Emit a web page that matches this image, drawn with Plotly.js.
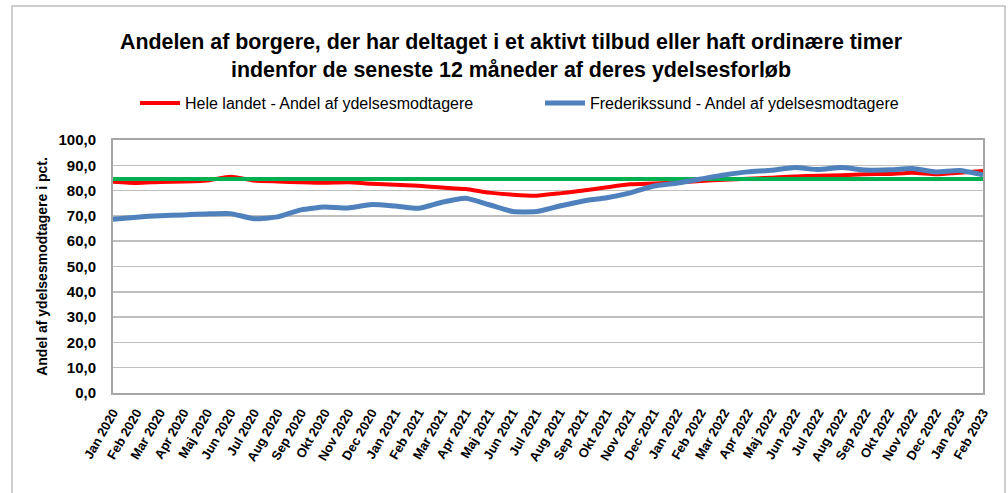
<!DOCTYPE html>
<html>
<head>
<meta charset="utf-8">
<script src="https://cdn.plot.ly/plotly-3.0.1.min.js"></script>
<style>
  html, body { margin: 0; padding: 0; background: #ffffff; }
  #chart { width: 1008px; height: 493px; }
</style>
</head>
<body>
<div id="chart"></div>
<script>
const months = ["Jan 2020","Feb 2020","Mar 2020","Apr 2020","Maj 2020","Jun 2020","Jul 2020","Aug 2020","Sep 2020","Okt 2020","Nov 2020","Dec 2020",
  "Jan 2021","Feb 2021","Mar 2021","Apr 2021","Maj 2021","Jun 2021","Jul 2021","Aug 2021","Sep 2021","Okt 2021","Nov 2021","Dec 2021",
  "Jan 2022","Feb 2022","Mar 2022","Apr 2022","Maj 2022","Jun 2022","Jul 2022","Aug 2022","Sep 2022","Okt 2022","Nov 2022","Dec 2022",
  "Jan 2023","Feb 2023"];

const heleLandet = [83.5,83.0,83.4,83.6,84.0,85.5,84.0,83.6,83.3,83.1,83.3,82.7,
  82.3,81.9,81.2,80.6,79.2,78.4,78.0,78.9,80.0,81.3,82.5,82.8,
  83.2,83.8,84.3,84.7,85.1,85.6,85.9,86.1,86.5,86.6,87.1,86.5,
  87.1,87.8];

const frederikssund = [68.7,69.5,70.1,70.4,70.8,70.9,68.9,69.6,72.4,73.5,73.1,74.5,
  73.9,73.0,75.4,77.0,74.4,71.7,71.7,73.9,75.9,77.2,79.1,81.8,
  83.0,84.6,86.2,87.4,88.0,89.1,88.3,89.1,88.1,88.2,88.7,87.4,
  87.9,86.2];

const targetLevel = 84.6;

const yTicks = [0,10,20,30,40,50,60,70,80,90,100];

const FONT = "Liberation Sans, Arial, sans-serif";

const traces = [
  {
    x: months, y: heleLandet, type: "scatter", mode: "lines",
    name: "Hele landet - Andel af ydelsesmodtagere",
    line: {color: "#FF0000", width: 4, shape: "spline", smoothing: 0.5}
  },
  {
    x: [months[0], months[months.length - 1]], y: [targetLevel, targetLevel],
    type: "scatter", mode: "lines", showlegend: false, hoverinfo: "skip",
    line: {color: "#00B050", width: 4}
  },
  {
    x: months, y: frederikssund, type: "scatter", mode: "lines",
    name: "Frederikssund - Andel af ydelsesmodtagere",
    line: {color: "#4F81BD", width: 5, shape: "spline", smoothing: 0.5}
  }
];

const layout = {
  width: 1008, height: 493,
  paper_bgcolor: "#ffffff", plot_bgcolor: "#ffffff",
  separators: ", ",
  margin: {l: 113, r: 25, t: 140, b: 100, pad: 0},
  font: {family: FONT, color: "#000000"},
  title: {
    text: "Andelen af borgere, der har deltaget i et aktivt tilbud eller haft ordinære timer<br>indenfor de seneste 12 måneder af deres ydelsesforløb",
    font: {family: FONT, size: 21.4, weight: 700, color: "#000000"},
    x: 511 / 1008, xanchor: "center", xref: "container",
    y: 1 - 49 / 493, yanchor: "middle", yref: "container"
  },
  showlegend: true,
  legend: {
    orientation: "h", x: 0.0253, xanchor: "left", y: 1.146, yanchor: "middle",
    font: {family: FONT, size: 16, color: "#000000"},
    itemwidth: 40, entrywidth: 350, traceorder: "normal",
    bgcolor: "rgba(0,0,0,0)"
  },
  xaxis: {
    type: "category", range: [0, 37],
    tickangle: -60, ticks: "",
    tickfont: {family: FONT, size: 13, weight: 700, color: "#000000"},
    ticklabelstandoff: 5,
    showgrid: false, zeroline: false,
    showline: true, linecolor: "#A6A6A6", linewidth: 2, mirror: true
  },
  yaxis: {
    range: [0, 100], tickvals: yTicks, tickformat: ".1f",
    ticks: "", ticklabelstandoff: 12,
    tickfont: {family: FONT, size: 15, weight: 700, color: "#000000"},
    showgrid: true, gridcolor: "#BFBFBF", gridwidth: 1.5,
    zeroline: false,
    showline: true, linecolor: "#A6A6A6", linewidth: 2, mirror: true,
    title: {text: "Andel af ydelsesmodtagere i pct.", standoff: 8,
      font: {family: FONT, size: 14, weight: 700, color: "#000000"}}
  },
  shapes: [
    {type: "rect", xref: "paper", yref: "paper",
     x0: (12 - 113) / 870, x1: (1005 - 113) / 870,
     y0: (393 - 520) / 253, y1: (393 - 6) / 253,
     line: {color: "#BFBFBF", width: 1.5}, fillcolor: "rgba(0,0,0,0)", layer: "below"}
  ]
};

Plotly.newPlot("chart", traces, layout, {displayModeBar: false, staticPlot: true});
</script>
</body>
</html>
